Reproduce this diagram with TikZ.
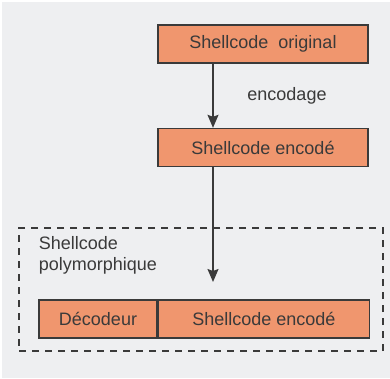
\documentclass[tikz,border=0pt]{standalone}
\usepackage{fontspec}
\setmainfont{Liberation Sans}
\usetikzlibrary{arrows.meta,positioning}

\definecolor{panel}{HTML}{EEEFF1}
\definecolor{salmon}{HTML}{F0966E}
\definecolor{ink}{HTML}{3A3A3A}

\begin{document}
\begin{tikzpicture}[x=1pt,y=-1pt,node distance=103.5pt,on grid,
    box/.style={draw=ink,line width=1.4pt,fill=salmon,text=ink,
      minimum width=210pt,minimum height=38pt,inner sep=0pt,
      font=\fontsize{18}{20}\selectfont},
    frame/.style={draw=ink,line width=1.4pt,dash pattern=on 7pt off 6pt,
      minimum width=364pt,minimum height=123pt,inner sep=0pt},
    flow/.style={draw=ink,line width=1.5pt,-{Stealth[length=13pt,width=11pt,inset=2pt]}},
    caption/.style={text=ink,font=\fontsize{18}{20.5}\selectfont}]
    % page background
    \fill[white] (0,0) rectangle (390,378);
    \fill[panel] (2,2) rectangle (390,378);

    \node[box]   (orig) at (263,44)      {Shellcode\ \ original};
    \node[box]   (enc)  [below=of orig]  {Shellcode encodé};

    % polymorphic shellcode: decoder + encoded payload
    \node[frame] (poly) at (201,289.5) {};
    \node[caption,align=left,anchor=north west] (polylbl)
         at ([xshift=17pt,yshift=-6pt]poly.north west) {Shellcode\\polymorphique};
    \node[box,minimum width=118pt] (dec) at (98,319) {Décodeur};
    \node[box,minimum width=211pt,anchor=west] (payload) at (dec.east) {Shellcode encodé};

    \coordinate (drop) at (213,282);

    \draw[flow] ([xshift=-50pt]orig.south) -- node[caption,xshift=74pt] {encodage} ([xshift=-50pt]enc.north);
    \draw[flow] ([xshift=-50pt]enc.south) -- (drop);
\end{tikzpicture}
\end{document}
